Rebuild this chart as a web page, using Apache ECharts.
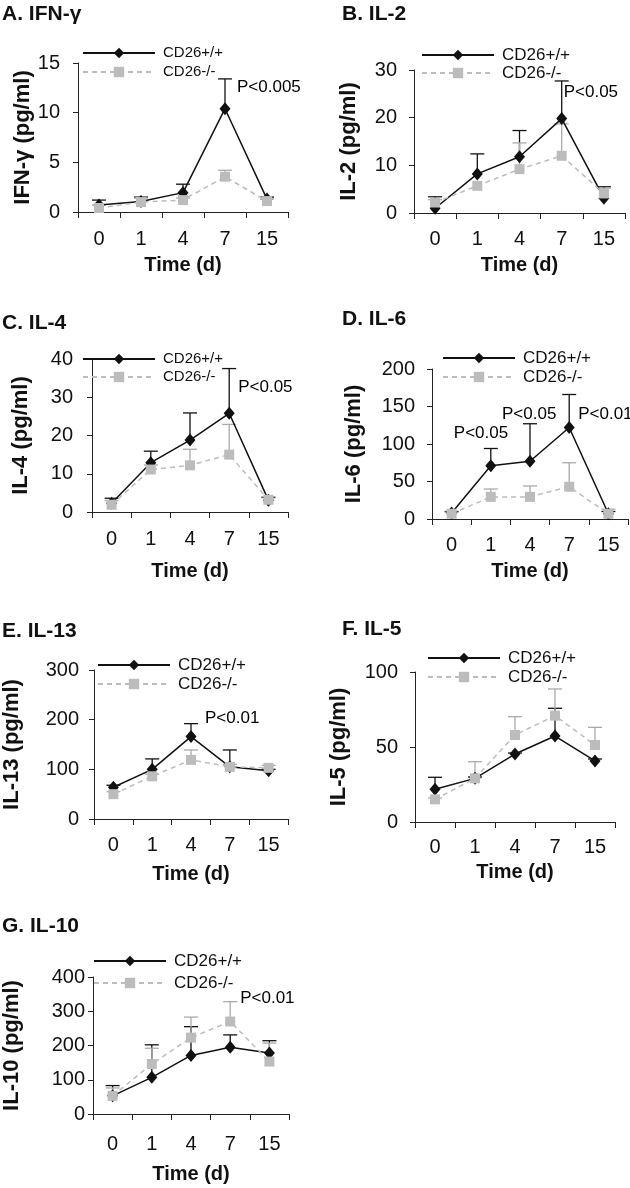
<!DOCTYPE html>
<html>
<head>
<meta charset="utf-8">
<script src="https://cdn.jsdelivr.net/npm/echarts@6/dist/echarts.min.js"></script>
<style>
html,body{margin:0;padding:0;background:#fff;}
#main{width:630px;height:1188px;}
</style>
</head>
<body>
<div id="main"></div>
<script>
var days = ['0', '1', '4', '7', '15'];
var seriesNames = ['CD26+/+', 'CD26-/-'];

// mean values and top of the error bar (mean + SD)
var ifngWt = [0.7, 1.05, 1.95, 10.4, 1.3];
var ifngWtTop = [1.2, 1.5, 2.8, 13.4, 1.5];
var ifngKo = [0.4, 1.0, 1.2, 3.55, 1.1];
var ifngKoTop = [0.7, 1.4, 1.4, 4.2, 1.3];
var ifngNotes = [['7', 12.6, 'P<0.005', 12]];

var il2Wt = [1.0, 8.2, 11.8, 19.8, 3.1];
var il2WtTop = [3.4, 12.4, 17.3, 27.7, 5.5];
var il2Ko = [2.2, 5.7, 9.2, 12.0, 4.1];
var il2KoTop = [2.8, null, 14.7, 18.7, 5.2];
var il2Notes = [['7', 25.4, 'P<0.05', 2]];

var il4Wt = [2.3, 12.9, 18.8, 25.8, 3.1];
var il4WtTop = [3.6, 15.9, 25.9, 37.5, 3.8];
var il4Ko = [1.9, 11.1, 12.2, 15.0, 3.2];
var il4KoTop = [3.0, 12.3, 16.4, 22.9, 4.0];
var il4Notes = [['7', 32.6, 'P<0.05', 9]];

var il6Wt = [8, 71, 77, 122, 7];
var il6WtTop = [10, 94, 127, 166, 10];
var il6Ko = [7, 29.5, 29.5, 43, 7];
var il6KoTop = [9, 40, 44, 75, 13];
var il6Notes = [['1', 114, 'P<0.05', -37], ['4', 140, 'P<0.05', -28], ['7', 140, 'P<0.01', 9]];

var il13Wt = [64, 100, 166, 105, 97];
var il13WtTop = [68, 121, 192, 139, 100];
var il13Ko = [50, 86, 119, 105, 103];
var il13KoTop = [55, 90, 139, 110, 108];
var il13Notes = [['4', 203, 'P<0.01', 14]];

var il5Wt = [21.8, 29.1, 45.3, 57.3, 40.7];
var il5WtTop = [29.8, 30, 46, 75.8, 42];
var il5Ko = [15.1, 29.1, 58, 70.9, 51.3];
var il5KoTop = [16, 40.2, 70.2, 88.7, 63.1];
var il5Notes = [];

var il10Wt = [53, 107, 171, 195, 178];
var il10WtTop = [83, 202, 255, 231, 214];
var il10Ko = [53, 146, 223, 270, 153];
var il10KoTop = [76, 192, 283, 328, 207];
var il10Notes = [['7', 339, 'P<0.01', 10]];

var FONT = "'Liberation Sans', Arial, Helvetica, sans-serif";
var BLACK = '#111';
var GREY = '#bcbcbc';

var panels = [
    {title: 'A. IFN-γ', tx: 2, ty: 4, yName: 'IFN-γ (pg/ml)', max: 15, step: 5,
     grid: [78, 63, 210, 149], yGap: 39, yMargin: 18, xMargin: 17, xGap: 43,
     leg: [82, 44, 1, 15], wt: ifngWt, wtTop: ifngWtTop, ko: ifngKo, koTop: ifngKoTop, notes: ifngNotes},
    {title: 'B. IL-2', tx: 342, ty: 4, yName: 'IL-2 (pg/ml)', max: 30, step: 10,
     grid: [414, 70, 211, 143], yGap: 54, yMargin: 17, xMargin: 16, xGap: 42,
     leg: [421, 46, 0, 17], wt: il2Wt, wtTop: il2WtTop, ko: il2Ko, koTop: il2KoTop, notes: il2Notes},
    {title: 'C. IL-4', tx: 2, ty: 313, yName: 'IL-4 (pg/ml)', max: 40, step: 10,
     grid: [92, 359, 196, 153], yGap: 60, yMargin: 19, xMargin: 17, xGap: 49,
     leg: [82, 350, 0, 15], wt: il4Wt, wtTop: il4WtTop, ko: il4Ko, koTop: il4KoTop, notes: il4Notes},
    {title: 'D. IL-6', tx: 342, ty: 309, yName: 'IL-6 (pg/ml)', max: 200, step: 50,
     grid: [432, 369, 196, 150], yGap: 67, yMargin: 17, xMargin: 16, xGap: 42,
     leg: [442, 349, 1, 17], wt: il6Wt, wtTop: il6WtTop, ko: il6Ko, koTop: il6KoTop, notes: il6Notes},
    {title: 'E. IL-13', tx: 2, ty: 621, yName: 'IL-13 (pg/ml)', max: 300, step: 100,
     grid: [93, 670, 195, 149], yGap: 71, yMargin: 15, xMargin: 16, xGap: 45,
     leg: [97, 656, 1, 17], wt: il13Wt, wtTop: il13WtTop, ko: il13Ko, koTop: il13KoTop, notes: il13Notes},
    {title: 'F. IL-5', tx: 342, ty: 619, yName: 'IL-5 (pg/ml)', max: 100, step: 50,
     grid: [415, 672, 200, 150], yGap: 65, yMargin: 17, xMargin: 15, xGap: 40,
     leg: [427, 649, 1, 17], wt: il5Wt, wtTop: il5WtTop, ko: il5Ko, koTop: il5KoTop, notes: il5Notes},
    {title: 'G. IL-10', tx: 2, ty: 916, yName: 'IL-10 (pg/ml)', max: 400, step: 100,
     grid: [93, 977, 196, 137], yGap: 70, yMargin: 8, xMargin: 20, xGap: 50,
     leg: [93, 952, 4, 17], wt: il10Wt, wtTop: il10WtTop, ko: il10Ko, koTop: il10KoTop, notes: il10Notes}
];

function errorBars(idx, means, tops, color) {
    var data = [];
    for (var k = 0; k < means.length; k++) {
        if (tops[k] != null) data.push([k, means[k], tops[k]]);
    }
    return {
        type: 'custom', name: 'sd', xAxisIndex: idx, yAxisIndex: idx, z: 1,
        data: data, encode: {x: 0, y: [1, 2]}, silent: true,
        renderItem: function (params, api) {
            var base = api.coord([api.value(0), api.value(1)]);
            var top = api.coord([api.value(0), api.value(2)]);
            var st = {stroke: color, lineWidth: 1.3, fill: null};
            return {type: 'group', children: [
                {type: 'line', shape: {x1: base[0], y1: base[1], x2: top[0], y2: top[1]}, style: st},
                {type: 'line', shape: {x1: top[0] - 7, y1: top[1], x2: top[0] + 7, y2: top[1]}, style: st}
            ]};
        }
    };
}

var option = {
    animation: false,
    backgroundColor: '#fff',
    textStyle: {fontFamily: FONT},
    title: [], legend: [], grid: [], xAxis: [], yAxis: [], series: []
};

panels.forEach(function (p, i) {
    option.title.push({
        text: p.title, left: p.tx, top: p.ty, padding: 0,
        textStyle: {fontFamily: FONT, fontSize: 21, fontWeight: 'bold', color: BLACK}
    });
    option.grid.push({left: p.grid[0], top: p.grid[1], width: p.grid[2], height: p.grid[3]});
    option.xAxis.push({
        type: 'category', gridIndex: i, data: days, boundaryGap: true,
        name: 'Time (d)', nameLocation: 'middle', nameGap: p.xGap,
        nameTextStyle: {fontFamily: FONT, fontSize: 20, fontWeight: 'bold', color: BLACK},
        axisLine: {lineStyle: {color: '#222', width: 1}},
        axisTick: {show: true, length: 6, interval: 0, lineStyle: {color: '#222'}},
        axisLabel: {interval: 0, margin: p.xMargin, fontSize: 20, color: BLACK, fontFamily: FONT},
        splitLine: {show: false}
    });
    option.yAxis.push({
        type: 'value', gridIndex: i, min: 0, max: p.max, interval: p.step,
        name: p.yName, nameLocation: 'middle', nameGap: p.yGap,
        nameTextStyle: {fontFamily: FONT, fontSize: 22, fontWeight: 'bold', color: BLACK},
        axisLine: {show: true, lineStyle: {color: '#222', width: 1}},
        axisTick: {show: true, length: 5, lineStyle: {color: '#222'}},
        axisLabel: {margin: p.yMargin, fontSize: 20, color: BLACK, fontFamily: FONT},
        splitLine: {show: false}
    });
    option.legend.push({
        data: seriesNames, orient: 'vertical', left: p.leg[0], top: p.leg[1],
        itemGap: p.leg[2], itemWidth: 72, itemHeight: 13, padding: 0,
        selectedMode: false,
        textStyle: {fontFamily: FONT, fontSize: p.leg[3], lineHeight: 18, color: BLACK, padding: [0, 0, 0, 3]}
    });

    option.series.push(errorBars(i, p.wt, p.wtTop, BLACK));
    option.series.push(errorBars(i, p.ko, p.koTop, '#aaa'));
    option.series.push({
        name: seriesNames[0], type: 'line', xAxisIndex: i, yAxisIndex: i, z: 3,
        data: p.wt, symbol: 'diamond', symbolSize: [11, 13],
        itemStyle: {color: BLACK}, lineStyle: {color: BLACK, width: 1.5}
    });
    option.series.push({
        name: seriesNames[1], type: 'line', xAxisIndex: i, yAxisIndex: i, z: 4,
        data: p.ko, symbol: 'rect', symbolSize: 10,
        itemStyle: {color: GREY}, lineStyle: {color: GREY, width: 1.5, type: [5, 4]}
    });
    if (p.notes.length) {
        option.series.push({
            name: 'note', type: 'scatter', xAxisIndex: i, yAxisIndex: i, z: 5,
            symbolSize: 0, itemStyle: {color: BLACK, opacity: 1}, silent: true,
            data: p.notes.map(function (n) {
                return {name: n[2], value: [n[0], n[1]],
                    label: {show: true, formatter: '{b}', position: [n[3], 0], align: 'left',
                        verticalAlign: 'middle', fontSize: 17, color: '#000', opacity: 1,
                        fontFamily: FONT}};
            })
        });
    }
});

var chart = echarts.init(document.getElementById('main'), null, {renderer: 'canvas'});
chart.setOption(option);
</script>
</body>
</html>
